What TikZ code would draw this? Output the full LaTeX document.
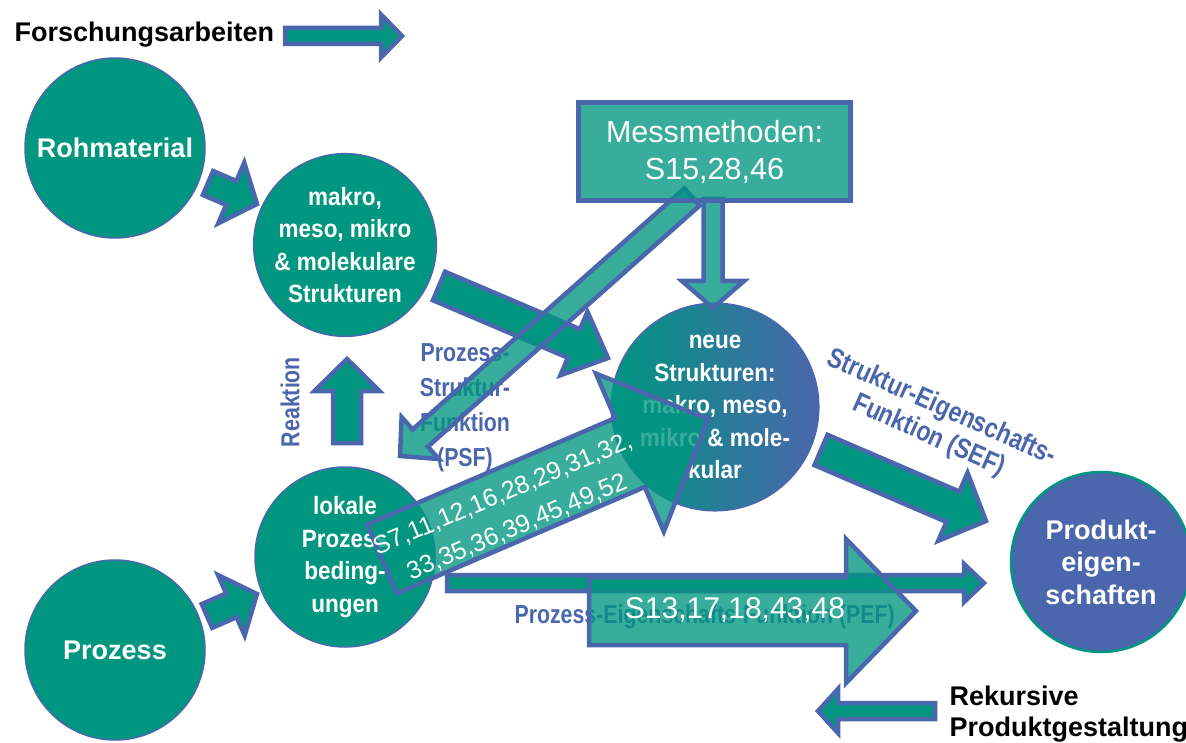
\documentclass[tikz,border=0pt]{standalone}
\usepackage{fontspec}
\setmainfont{Liberation Sans}
\newfontfamily\narrowsans[FakeStretch=0.82]{Liberation Sans}
\newfontfamily\bubblesans[FakeStretch=0.9]{Liberation Sans}
\usetikzlibrary{calc}

\definecolor{kitgreen}{HTML}{009680}
\definecolor{kitblue}{HTML}{4A66AC}

% block arrow: [style] {tail} {tip} {shaft width} {head width} {head length}
\newcommand\blockarrow[6][]{%
  \path[arrowbody,#1] let \p1=(#2), \p2=(#3),
    \n1={atan2(\y2-\y1,\x2-\x1)}, \n2={veclen(\x2-\x1,\y2-\y1)} in
    ($(\p1)+(\n1+90:#4pt/2)$) -- ++(\n1:\n2-#6pt) -- ++(\n1+90:#5pt/2-#4pt/2)
    -- (\p2) -- ($(\p2)+(\n1+180:#6pt)+(\n1-90:#5pt/2)$)
    -- ++(\n1+90:#5pt/2-#4pt/2) -- ($(\p1)+(\n1-90:#4pt/2)$) -- cycle;}

\begin{document}
\begin{tikzpicture}[
  x=1pt, y=-1pt,
  bubble/.style={circle, draw=kitblue, line width=1.5pt, fill=kitgreen, minimum size=180pt, inner sep=0pt, text=white, align=center, font=\bubblesans\bfseries\fontsize{25}{32.5}\selectfont},
  bigbubble/.style={bubble, font=\bfseries\fontsize{27}{32.5}\selectfont},
  arrowbody/.style={draw=kitblue, line width=4.5pt, fill=kitgreen},
  seethrough/.style={fill opacity=0.78},
  bluelabel/.style={text=kitblue, align=center, font=\narrowsans\bfseries\fontsize{26}{35}\selectfont},
  blacklabel/.style={text=black, align=left, font=\bfseries\fontsize{27}{31}\selectfont},
  reflist/.style={text=white, align=center, font=\fontsize{25}{36}\selectfont}
]
\useasboundingbox (0,0) rectangle (1186,743);

% Circles
\node[bigbubble] (Roh) at (115,148) {Rohmaterial};
\node[bubble] (Makro) at (345,245) {makro,\\meso, mikro\\\& molekulare\\Strukturen};
\node[bubble] (Lokal) at (345,557) {lokale\\Prozess\\beding-\\ungen};
\node[bigbubble] (Prozess) at (115,650) {Prozess};
\node[bubble, left color=kitgreen, right color=kitblue] (Neue) at (715,407) {neue\\Strukturen:\\makro, meso,\\mikro \& mole-\\kular};
\node[bigbubble, fill=kitblue, draw=kitgreen, line width=2.5pt] (Produkt) at (1101,562) {Produkt-\\eigen-\\schaften};

% Labels under the arrows
\node[bluelabel] (PSF) at (465,408) {Prozess-\\Struktur-\\Funktion\\(PSF)};
\node[bluelabel, anchor=west] (PEF) at (511,617) {Prozess-Eigenschafts-Funktion (PEF)};
\node[bluelabel, rotate=90] (Reaktion) at (290,402) {Reaktion};
\node[bluelabel, rotate=-24, font=\narrowsans\bfseries\fontsize{28}{31}\selectfont] (SEF) at (935,422) {Struktur-Eigenschafts-\\Funktion (SEF)};
\node[blacklabel, anchor=base west] (Forschung) at (11,42) {Forschungsarbeiten};
\node[blacklabel, anchor=west] (Rekursiv) at (946,714) {Rekursive\\Produktgestaltung};

% Arrow ends
\coordinate (FsTail) at (285,36);     \coordinate (FsTip) at (402,36);
\coordinate (RohOut) at (208,183);    \coordinate (MakroIn) at (257,204);
\coordinate (ProzessOut) at (207,616);\coordinate (LokalIn) at (257,594);
\coordinate (ReakTail) at (347,443);  \coordinate (ReakTip) at (347,359);
\coordinate (MakroOut) at (439,286);  \coordinate (NeueIn) at (608,358);
\coordinate (LokalRight) at (447,583);\coordinate (ProduktLeft) at (984,583);
\coordinate (NeueOut) at (821,450);   \coordinate (ProduktIn) at (986,521);
\coordinate (MessDiag) at (692,197);  \coordinate (LokalTop) at (400,456);
\coordinate (MessDown) at (713,199);  \coordinate (NeueTop) at (713,308);
\coordinate (LokalOut) at (382,559);  \coordinate (NeueLow) at (708,419);
\coordinate (PefTail) at (589,611);   \coordinate (PefTip) at (916,611);
\coordinate (RekTail) at (935,711);   \coordinate (RekTip) at (818,711);

% Small arrows
\blockarrow{FsTail}{FsTip}{16}{43}{21}
\blockarrow{RohOut}{MakroIn}{26}{66}{28}
\blockarrow{ProzessOut}{LokalIn}{26}{66}{28}
\blockarrow{ReakTail}{ReakTip}{28}{65}{32}
\blockarrow{RekTail}{RekTip}{16}{44}{20}

% Structure and property arrows
\blockarrow{MakroOut}{NeueIn}{31}{69}{37}
\blockarrow{LokalRight}{ProduktLeft}{16}{38}{20}
\blockarrow{NeueOut}{ProduktIn}{33}{74}{36}

% Messmethoden
\blockarrow[seethrough]{MessDiag}{LokalTop}{23}{56}{27}
\blockarrow[seethrough]{MessDown}{NeueTop}{19}{62}{27}
\node[draw=kitblue, line width=4.5pt, fill=kitgreen, seethrough, text opacity=1, text=white, minimum width=272pt, minimum height=98pt, align=center, font=\fontsize{30.5}{37}\selectfont] (Mess) at (714.5,151.5) {Messmethoden:\\S15,28,46};

% Big arrows with references
\blockarrow[seethrough]{LokalOut}{NeueLow}{75}{172}{85}
\blockarrow[seethrough]{PefTail}{PefTip}{68}{144}{70}
\node[reflist, rotate=23] (S7) at (510,511) {S7,11,12,16,28,29,31,32,\\33,35,36,39,45,49,52};
\node[reflist, font=\fontsize{30}{36}\selectfont] (S13) at (735,610) {S13,17,18,43,48};

\end{tikzpicture}
\end{document}
